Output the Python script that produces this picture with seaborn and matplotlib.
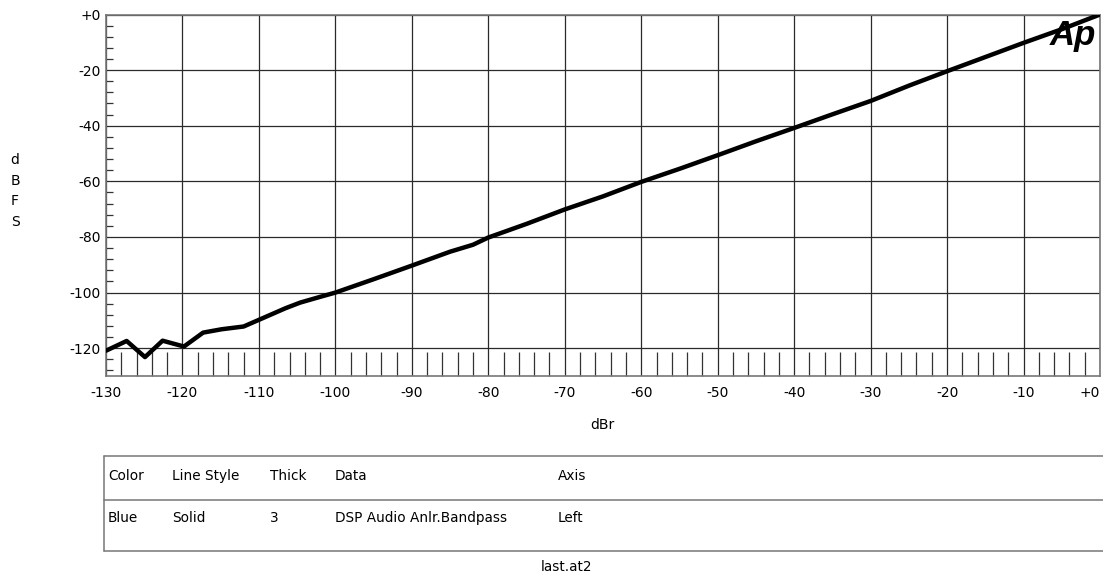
import matplotlib
matplotlib.use("Agg")
import matplotlib.pyplot as plt
from matplotlib.ticker import MultipleLocator
import seaborn as sns
import pandas as pd

# ---- data ----
dbr = [-130, -127.3, -124.9, -122.6, -119.8, -117.3, -114.9, -112.0, -110, -106.5,
       -104.6, -102.2, -100, -95, -90, -85, -82, -80, -75, -70, -65, -60, -55, -50,
       -45, -40, -35, -30, -25, -20, -15, -10, -5, 0]
dbfs = [-120.9, -117.4, -123.2, -117.3, -119.4, -114.4, -113.2, -112.2, -109.8, -105.6,
        -103.6, -101.7, -100.0, -95.2, -90.3, -85.3, -82.8, -80.2, -75.3, -70.1, -65.4,
        -60.2, -55.5, -50.6, -45.6, -40.8, -35.9, -31.1, -25.6, -20.4, -15.3, -10.2, -5.3, 0.0]

x_ticks = [-130, -120, -110, -100, -90, -80, -70, -60, -50, -40, -30, -20, -10, 0]
x_labels = ["-130", "-120", "-110", "-100", "-90", "-80", "-70", "-60", "-50", "-40",
            "-30", "-20", "-10", "+0"]
y_ticks = [-120, -100, -80, -60, -40, -20, 0]
y_labels = ["-120", "-100", "-80", "-60", "-40", "-20", "+0"]

table_header = ["Color", "Line Style", "Thick", "Data", "Axis"]
table_row = ["Blue", "Solid", "3", "DSP Audio Anlr.Bandpass", "Left"]

sns.set_style("white")
plt.rcParams["font.family"] = ["DejaVu Sans"]
plt.rcParams["text.color"] = "black"
plt.rcParams["xtick.color"] = "black"
plt.rcParams["ytick.color"] = "black"

W, H = 1103, 579
fig = plt.figure(figsize=(W / 100, H / 100), dpi=100)
L, R, T, B = 106, 1100, 14.5, 376
ax = fig.add_axes([L / W, 1 - B / H, (R - L) / W, (B - T) / H])

df = pd.DataFrame({"dBr": dbr, "dBFS": dbfs})
sns.lineplot(data=df, x="dBr", y="dBFS", ax=ax, color="black", lw=3.2, sort=False, zorder=5)

ax.set_xlim(-130, 0)
ax.set_ylim(-130, 0)
ax.set_xticks(x_ticks)
ax.set_xticklabels(x_labels, fontsize=10)
ax.set_yticks(y_ticks)
ax.set_yticklabels(y_labels, fontsize=10)
xtl = ax.get_xticklabels()
xtl[-1].set_horizontalalignment("right")
ax.xaxis.set_minor_locator(MultipleLocator(2))
ax.yaxis.set_minor_locator(MultipleLocator(4))
ax.tick_params(axis="x", which="major", length=0, pad=7)
ax.tick_params(axis="y", which="major", length=0, pad=4)
ax.tick_params(axis="x", which="minor", direction="in", length=17.5, width=0.9,
               color="#333333", bottom=True)
ax.tick_params(axis="y", which="minor", direction="in", length=5, width=0.9,
               color="#333333", left=True)
ax.grid(True, which="major", color="#2a2a2a", lw=0.9)
ax.set_xlabel("")
ax.set_ylabel("")
for s in ax.spines.values():
    s.set_color("#777777")
    s.set_linewidth(1.2)

def fx(px):
    return px / W

def fy(py):
    return 1 - py / H

# axis titles
fig.text(fx(602), fy(425), "dBr", fontsize=10, ha="center", va="center")
for i, ch in enumerate("dBFS"):
    fig.text(fx(15), fy(160 + i * 20.7), ch, fontsize=10, ha="center", va="center")

# Ap logo
fig.text(fx(1073), fy(45), "Ap", fontsize=25, fontweight="bold", fontstyle="italic",
         color="black", family=["Liberation Sans", "DejaVu Sans"],
         ha="center", va="baseline", zorder=10)

# legend table
lc = "#777777"
for yy in (456, 500, 551):
    fig.add_artist(plt.Line2D([fx(104), fx(1103)], [fy(yy), fy(yy)], color=lc, lw=1.1))
fig.add_artist(plt.Line2D([fx(104), fx(104)], [fy(456), fy(551)], color=lc, lw=1.1))
col_x = [108, 172, 270, 335, 558]
for cx, h, r in zip(col_x, table_header, table_row):
    fig.text(fx(cx), fy(476), h, fontsize=9.8, ha="left", va="center")
    fig.text(fx(cx), fy(518), r, fontsize=9.8, ha="left", va="center")
fig.text(fx(566), fy(567), "last.at2", fontsize=9.8, ha="center", va="center")

fig.savefig("out.png", dpi=100)
